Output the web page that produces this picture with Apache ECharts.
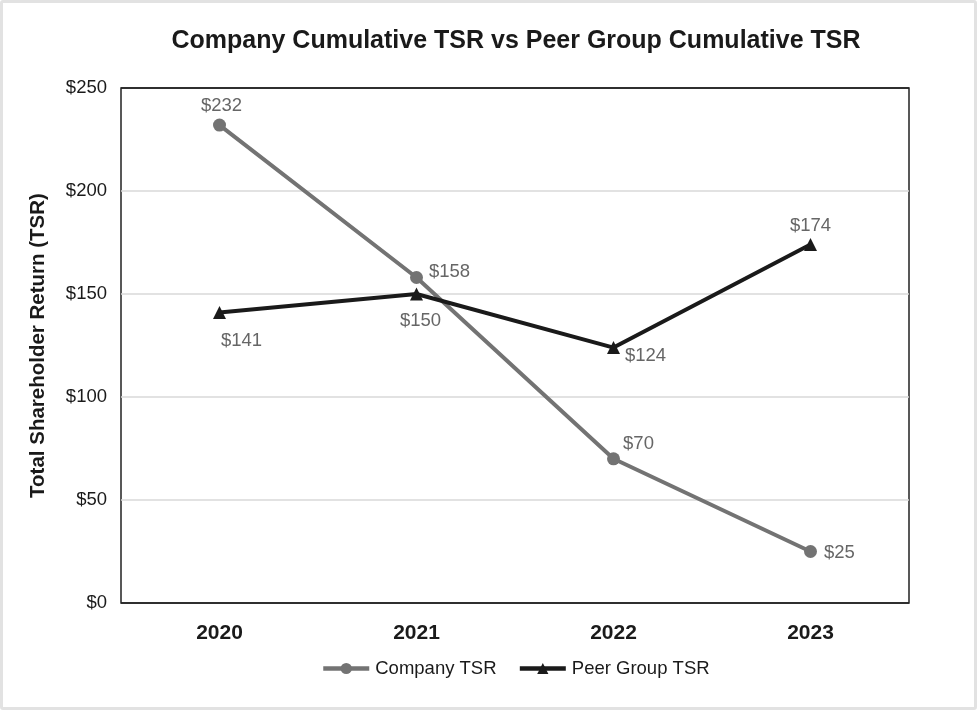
<!DOCTYPE html>
<html>
<head>
<meta charset="utf-8">
<script src="https://cdn.jsdelivr.net/npm/echarts@6/dist/echarts.min.js"></script>
<style>
html,body{margin:0;padding:0;background:#fff;}
#wrap{width:977px;height:710px;box-sizing:border-box;border:3px solid #e2e2e2;border-radius:3px;}
#c{width:971px;height:704px;}
</style>
</head>
<body>
<div id="wrap"><div id="c"></div></div>
<script>
const categories = ['2020', '2021', '2022', '2023'];
const companyTSR = [232, 158, 70, 25];
const peerTSR = [141, 150, 124, 174];
const yTicks = [0, 50, 100, 150, 200, 250];

const FONT = 'Liberation Sans, Arial, Helvetica, sans-serif';
const companyLabelPos = [
  {position: 'top', offset: [2, 2]},
  {position: 'right', offset: [1, -6]},
  {position: 'top', offset: [25, 6]},
  {position: 'right', offset: [2, 1]}
];
const peerLabelPos = [
  {position: 'bottom', offset: [22, 7]},
  {position: 'bottom', offset: [4, 6]},
  {position: 'right', offset: [0, 8]},
  {position: 'top', offset: [0, 2]}
];

const chart = echarts.init(document.getElementById('c'));
const labelBase = {show: true, color: '#666', fontSize: 18.5, fontFamily: FONT, formatter: p => '$' + p.value};

chart.setOption({
  animation: false,
  title: {
    text: 'Company Cumulative TSR vs Peer Group Cumulative TSR',
    left: 508, top: 21, textAlign: 'center',
    textStyle: {fontSize: 25, fontWeight: 'bold', color: '#1a1a1a', fontFamily: FONT}
  },
  grid: {left: 118, right: 65, top: 85, bottom: 104, show: true, borderColor: '#222', borderWidth: 1.5},
  legend: {
    bottom: 24, left: 313,
    itemWidth: 46, itemHeight: 14, itemGap: 21,
    textStyle: {fontSize: 18.5, color: '#1a1a1a', fontFamily: FONT, padding: [0, 0, 0, 1]},
    lineStyle: {width: 4.5},
    data: ['Company TSR', 'Peer Group TSR']
  },
  xAxis: {
    type: 'category', data: categories, boundaryGap: true,
    axisLine: {show: false}, axisTick: {show: false},
    axisLabel: {fontSize: 21, fontWeight: 'bold', color: '#1a1a1a', margin: 20, fontFamily: FONT}
  },
  yAxis: {
    type: 'value', min: yTicks[0], max: yTicks[yTicks.length - 1], interval: 50,
    name: 'Total Shareholder Return (TSR)', nameLocation: 'middle', nameGap: 72, nameRotate: 90,
    nameTextStyle: {fontSize: 20.5, fontWeight: 'bold', color: '#1a1a1a', fontFamily: FONT},
    axisLine: {show: false}, axisTick: {show: false},
    axisLabel: {fontSize: 18.5, color: '#1a1a1a', margin: 14, formatter: v => '$' + v, fontFamily: FONT},
    splitLine: {lineStyle: {color: ['#222', '#d8d8d8', '#d8d8d8', '#d8d8d8', '#d8d8d8', '#222'], width: 1.5}}
  },
  series: [
    {
      name: 'Company TSR', type: 'line',
      data: companyTSR.map((v, i) => ({value: v, label: Object.assign({}, labelBase, companyLabelPos[i])})),
      symbol: 'circle', symbolSize: 13,
      lineStyle: {color: '#737373', width: 4},
      itemStyle: {color: '#737373'},
      label: labelBase, z: 2
    },
    {
      name: 'Peer Group TSR', type: 'line',
      data: peerTSR.map((v, i) => ({value: v, label: Object.assign({}, labelBase, peerLabelPos[i])})),
      symbol: 'triangle', symbolSize: 13,
      lineStyle: {color: '#1a1a1a', width: 4},
      itemStyle: {color: '#1a1a1a'},
      label: labelBase, z: 3
    }
  ]
});
</script>
</body>
</html>
